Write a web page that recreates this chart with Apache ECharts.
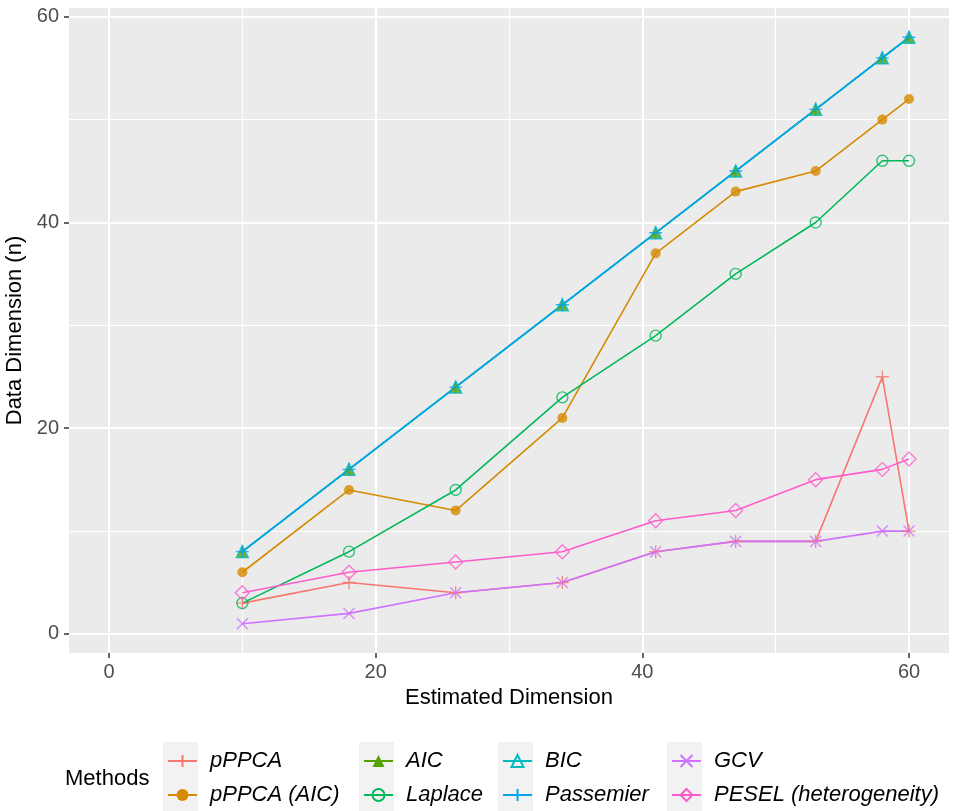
<!DOCTYPE html>
<html>
<head>
<meta charset="utf-8">
<script src="https://cdn.jsdelivr.net/npm/echarts@6/dist/echarts.min.js"></script>
<style>
  html, body { margin: 0; padding: 0; background: #ffffff; }
  #chart { width: 954px; height: 811px; }
</style>
</head>
<body>
<div id="chart"></div>
<script>
// Estimated vs. data dimension for each selection method
const xValues = [10, 18, 26, 34, 41, 47, 53, 58, 60];
const methods = ['pPPCA', 'pPPCA (AIC)', 'AIC', 'Laplace', 'BIC', 'Passemier', 'GCV', 'PESEL (heterogeneity)'];
const pPPCA = [3, 5, 4, 5, 8, 9, 9, 25, 10];
const pPPCA_AIC = [6, 14, 12, 21, 37, 43, 45, 50, 52];
const aic = [8, 16, 24, 32, 39, 45, 51, 56, 58];
const laplace = [3, 8, 14, 23, 29, 35, 40, 46, 46];
const bic = [8, 16, 24, 32, 39, 45, 51, 56, 58];
const passemier = [8, 16, 24, 32, 39, 45, 51, 56, 58];
const gcv = [1, 2, 4, 5, 8, 9, 9, 10, 10];
const pesel = [4, 6, 7, 8, 11, 12, 15, 16, 17];
const majorTicks = [0, 20, 40, 60];
const minorTicks = [10, 30, 50];

const FONT = '"Liberation Sans", Arial, Helvetica, sans-serif';

// shape paths (10x10 box)
const PLUS = 'path://M5,0 L5,10 M0,5 L10,5';
const CROSS = 'path://M0,0 L10,10 M10,0 L0,10';
const TRI = 'path://M5,0 L10,8.66 L0,8.66 Z';
const DIAMOND = 'path://M5,0 L10,5 L5,10 L0,5 Z';
const CIRCLE = 'path://M10,5 A5,5 0 1,1 0,5 A5,5 0 1,1 10,5 Z';

const values = [pPPCA, pPPCA_AIC, aic, laplace, bic, passemier, gcv, pesel];
const styles = [
  { color: '#F8766D', symbol: PLUS, size: 13, filled: false },
  { color: '#D68A00', symbol: 'circle', size: 10, filled: true },
  { color: '#53A200', symbol: TRI, size: 12, filled: true },
  { color: '#00B85A', symbol: CIRCLE, size: 11, filled: false },
  { color: '#00BCC2', symbol: TRI, size: 12, filled: false },
  { color: '#00A5F2', symbol: PLUS, size: 13, filled: false },
  { color: '#CF72FF', symbol: CROSS, size: 11, filled: false },
  { color: '#FF5CCB', symbol: DIAMOND, size: 14, filled: false }
];

function pairs(arr) { return xValues.map((x, i) => [x, arr[i]]); }
function itemStyleOf(s) {
  return s.filled
    ? { color: s.color, borderWidth: 0 }
    : { color: 'rgba(0,0,0,0)', borderColor: s.color, borderWidth: 1.4 };
}

const series = [];
// connecting lines (drawn under all points)
methods.forEach((name, i) => {
  const s = styles[i];
  series.push({
    name: name,
    type: 'line',
    data: pairs(values[i]),
    symbol: s.symbol,
    symbolSize: s.size,
    showSymbol: false,
    lineStyle: { color: s.color, width: 1.6 },
    itemStyle: itemStyleOf(s),
    z: 2,
    silent: true
  });
});
// point markers
methods.forEach((name, i) => {
  const s = styles[i];
  series.push({
    name: name + ' points',
    type: 'scatter',
    data: pairs(values[i]),
    symbol: s.symbol,
    symbolSize: s.size,
    itemStyle: itemStyleOf(s),
    z: 3,
    silent: true
  });
});

const legendCols = [[167, methods[0], methods[1]], [363, methods[2], methods[3]],
                    [502, methods[4], methods[5]], [671, methods[6], methods[7]]];
const legends = legendCols.map(c => ({
  orient: 'vertical',
  left: c[0],
  top: 750,
  padding: 0,
  itemWidth: 29,
  itemHeight: 15,
  itemGap: 12,
  selectedMode: false,
  data: [c[1], c[2]],
  textStyle: {
    fontFamily: FONT, fontSize: 22, fontStyle: 'italic', color: '#000',
    lineHeight: 22, padding: [0, 0, 0, 8]
  }
}));

const keyBoxes = [163, 359, 498, 667].map(x => ({
  type: 'rect', left: x, top: 742, shape: { width: 35, height: 69 },
  style: { fill: '#F2F2F2' }, z: 0, silent: true
}));

const axisLabelStyle = { fontFamily: FONT, fontSize: 20, color: '#4D4D4D' };
const tickStyle = { show: true, length: 5, lineStyle: { color: '#333333', width: 1.5 } };

const option = {
  animation: false,
  backgroundColor: '#ffffff',
  grid: {
    left: 69, right: 5, top: 8, bottom: 158,
    outerBoundsMode: 'none',
    containLabel: false,
    show: true, backgroundColor: '#EBEBEB', borderWidth: 0
  },
  xAxis: [
    {
      type: 'value', min: -3, max: 63, position: 'bottom',
      axisLine: { show: false, onZero: false },
      axisTick: Object.assign({ customValues: majorTicks }, tickStyle),
      axisLabel: Object.assign({ customValues: majorTicks, margin: 9 }, axisLabelStyle),
      splitLine: { show: true, lineStyle: { color: '#FFFFFF', width: 2 } },
      name: 'Estimated Dimension', nameLocation: 'middle', nameGap: 28,
      nameTextStyle: { fontFamily: FONT, fontSize: 22, color: '#000' }
    },
    {
      type: 'value', min: -3, max: 63, position: 'bottom',
      axisLine: { show: false, onZero: false },
      axisTick: { show: false, customValues: minorTicks },
      axisLabel: { show: false, customValues: minorTicks },
      splitLine: { show: true, lineStyle: { color: '#FFFFFF', width: 1 } }
    }
  ],
  yAxis: [
    {
      type: 'value', min: -1.85, max: 60.85, position: 'left',
      axisLine: { show: false, onZero: false },
      axisTick: Object.assign({ customValues: majorTicks }, tickStyle),
      axisLabel: Object.assign({ customValues: majorTicks, margin: 10 }, axisLabelStyle),
      splitLine: { show: true, lineStyle: { color: '#FFFFFF', width: 2 } },
      name: 'Data Dimension (n)', nameLocation: 'middle', nameGap: 40,
      nameTextStyle: { fontFamily: FONT, fontSize: 22, color: '#000' }
    },
    {
      type: 'value', min: -1.85, max: 60.85, position: 'left',
      axisLine: { show: false, onZero: false },
      axisTick: { show: false, customValues: minorTicks },
      axisLabel: { show: false, customValues: minorTicks },
      splitLine: { show: true, lineStyle: { color: '#FFFFFF', width: 1 } }
    }
  ],
  legend: legends,
  graphic: keyBoxes.concat([{
    type: 'text', left: 65, top: 768, z: 1, silent: true,
    style: { text: 'Methods', fontFamily: FONT, fontSize: 22, fill: '#000' }
  }]),
  series: series
};

const chart = echarts.init(document.getElementById('chart'), null, { renderer: 'canvas' });
chart.setOption(option);
</script>
</body>
</html>
